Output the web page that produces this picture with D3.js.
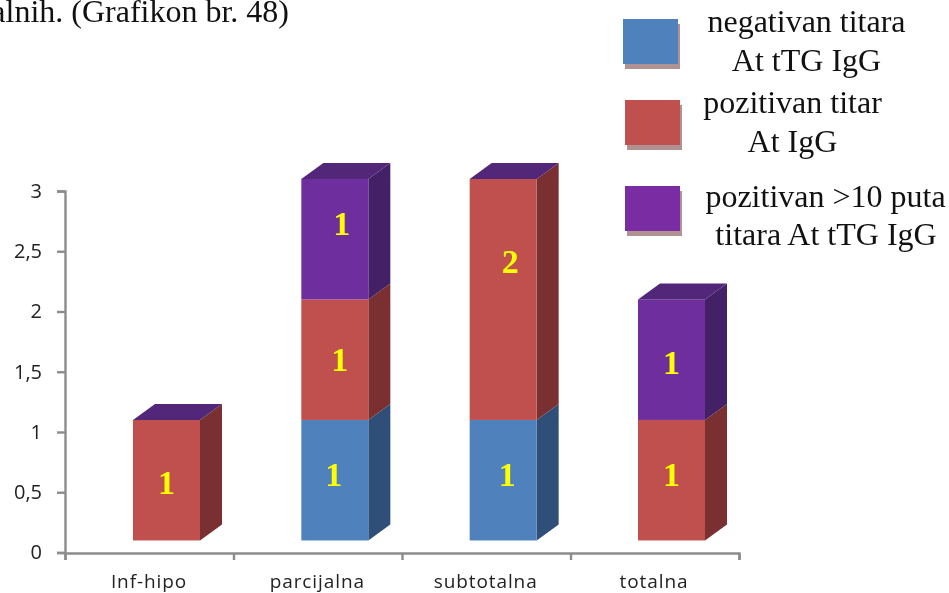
<!DOCTYPE html>
<html><head><meta charset="utf-8">
<script src="https://cdn.jsdelivr.net/npm/d3@7"></script>
<style>html,body{margin:0;padding:0;background:#fff;overflow:hidden}svg{display:block;filter:blur(.35px)}</style>
</head><body><svg id="c" width="949" height="593"></svg>
<script>
const categories = ["Inf-hipo","parcijalna","subtotalna","totalna"];
const negativan = [0,1,1,0];
const pozitivan = [1,1,2,1];
const pozitivan10 = [0,1,0,1];
const yTicks = [0,0.5,1,1.5,2,2.5,3];
const legendLabels = [["negativan titara","At tTG IgG"],["pozitivan titar","At IgG"],["pozitivan >10 puta","titara At tTG IgG"]];
const front = ["#4F81BD","#C0504D","#6F2E9E"];
const side = ["#2F4F78","#7A3030","#442066"];
const topColor = "#522779";
const heading = "alnih. (Grafikon br. 48)";

const svg = d3.select("#c");
const serif = "'Liberation Serif','Times New Roman',serif";
const sans = "'Open Sans',sans-serif";
const y = d3.scaleLinear().domain([0,3]).range([552.5,191]);
// 3D geometry of the original chart
const dx = 22, dy = -16, floor = 0.1;
const barW = 67;

svg.append("text").attr("x",289).attr("y",22).attr("text-anchor","end").attr("font-family",serif).attr("font-size",32).attr("fill","#111").text(heading);

const yAxis = d3.axisLeft(y).tickValues(yTicks).tickSize(8).tickPadding(15).tickFormat(d=>String(d).replace(".",","));
const xAxis = d3.axisBottom(d3.scalePoint().domain(d3.range(5)).range([65,739])).tickFormat("").tickSize(7);
const gy = svg.append("g").attr("transform","translate(65,0)").call(yAxis);
const gx = svg.append("g").attr("transform","translate(0,553)").call(xAxis);
[gy,gx].forEach(g=>{g.selectAll("path,line").attr("stroke","#8c8c8c").attr("stroke-width",2.4);
  g.selectAll("text").attr("font-family",sans).attr("font-size",20).attr("fill","#222");});
const centers = d3.scalePoint().domain(categories).range([149,654]);
svg.append("g").selectAll("text").data(categories).join("text")
  .attr("x",d=>centers(d)).attr("y",587.5).attr("text-anchor","middle")
  .attr("font-family",sans).attr("font-size",19).attr("letter-spacing",0.9).attr("fill","#222").text(d=>d);

const series = d3.stack().keys([0,1,2]).value((d,k)=>d[k])(categories.map((c,i)=>[negativan[i],pozitivan[i],pozitivan10[i]]));
const pts = a => a.map(p=>p.join(",")).join(" ");
const x0 = i => centers(categories[i]) - barW/2 + 17.5;
series.forEach((s,k)=>{
  const g = svg.append("g");
  s.forEach((d,i)=>{
    if (d[1]===d[0]) return;
    const l=x0(i), r=l+barW, t=y(d[1]+floor), b=y(d[0]+floor);
    g.append("polygon").attr("points",pts([[r,t],[r+dx,t+dy],[r+dx,b+dy],[r,b]])).attr("fill",side[k]);
    g.append("rect").attr("x",l).attr("y",t).attr("width",barW).attr("height",b-t).attr("fill",front[k]);
  });
});
categories.forEach((c,i)=>{
  const total = negativan[i]+pozitivan[i]+pozitivan10[i];
  const l=x0(i), r=l+barW, t=y(total+floor);
  svg.append("polygon").attr("points",pts([[l,t],[l+dx,t+dy],[r+dx,t+dy],[r,t]])).attr("fill",topColor);
});

// value labels, hand-placed in the original
const labelNudge = [[[0,0],[0,3],[0,0]],[[-1,-5],[5,0],[7,-15]],[[4,-5],[7,-37],[0,0]],[[0,0],[0,-5],[0,3]]];
const labels = svg.append("g").attr("font-family",serif).attr("font-weight","bold").attr("font-size",34).attr("fill","#FFFF00").attr("text-anchor","middle");
series.forEach((s,k)=>s.forEach((d,i)=>{
  if (d[1]===d[0]) return;
  const n = labelNudge[i][k];
  const mid = (d[0]+d[1])/2+floor;
  labels.append("text").attr("x",x0(i)+barW/2+n[0]).attr("y",y(mid)+11+n[1]).text(d[1]-d[0]);
}));

// legend
const swatchX=[623,625,625], swatchY=[19,100,186];
const legendCx=[[806.5,806.5],[792.5,792.5],[825.5,826]], legendLine=[[32,71],[113,152],[207,245]];
legendLabels.forEach((ls,k)=>{
  svg.append("rect").attr("x",swatchX[k]+2).attr("y",swatchY[k]+5).attr("width",55).attr("height",45).attr("fill","#B09292");
  svg.append("rect").attr("x",swatchX[k]).attr("y",swatchY[k]).attr("width",55).attr("height",45).attr("fill",k==2?"#7A2CA3":front[k]);
  ls.forEach((t,j)=>svg.append("text").attr("x",legendCx[k][j]).attr("y",legendLine[k][j]).attr("text-anchor","middle")
    .attr("font-family",serif).attr("font-size",32).attr("fill","#111").text(t));
});
</script></body></html>
